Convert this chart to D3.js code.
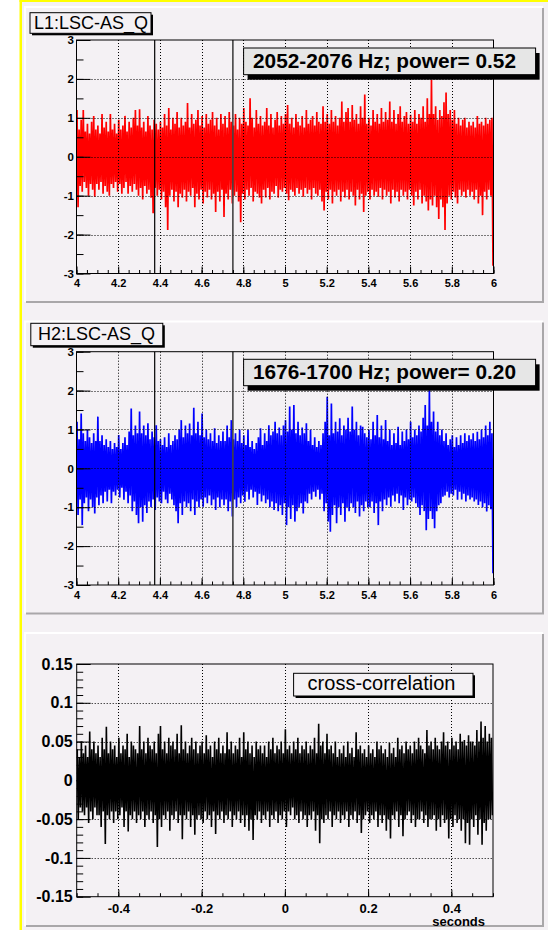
<!DOCTYPE html>
<html>
<head>
<meta charset="utf-8">
<script src="https://cdn.jsdelivr.net/npm/d3@7/dist/d3.min.js"></script>
<style>
  body { margin: 0; background: #fff; }
  svg { display: block; font-family: "Liberation Sans", Arial, Helvetica, sans-serif; }
</style>
</head>
<body>
<div id="chart"></div>
<script>
// ---- data ----
// time window of the two strain channels (s) and the two marker lines
var timeDomain = [4, 6];
var markerTimes = [4.375, 4.75];
var timeTicks = [4, 4.2, 4.4, 4.6, 4.8, 5, 5.2, 5.4, 5.6, 5.8, 6];
var timeLabels = ["4", "4.2", "4.4", "4.6", "4.8", "5", "5.2", "5.4", "5.6", "5.8", "6"];
var ampTicks = [3, 2, 1, 0, -1, -2, -3];
var ampLabels = ["3", "2", "1", "0", "-1", "-2", "-3"];

// L1 trace: successive upper / lower swings, one pair every 0.01 s (one row = 0.1 s)
var l1Hi = [
  1.2,0.7,0.95,1.2,0.65,0.85,0.6,0.9,1.05,0.7,
  0.8,0.6,1.1,0.75,0.9,0.65,1.1,0.7,0.85,0.6,
  0.95,0.7,0.8,1.05,0.65,0.9,0.75,1.0,1.2,0.8,
  1.22,0.75,0.9,0.65,1.05,0.8,0.7,0.95,0.85,0.7,
  0.9,0.75,1.1,0.8,1.25,0.7,1.0,0.85,1.15,0.75,
  1.0,0.8,0.9,1.38,0.75,1.1,0.85,0.95,1.2,0.8,
  1.05,0.75,1.1,0.85,0.95,1.15,0.8,1.0,0.7,1.1,
  0.85,1.05,0.75,1.15,0.9,0.8,1.1,0.7,1.0,0.85,
  1.25,0.9,0.8,1.5,1.0,0.75,1.2,0.85,1.05,0.8,
  0.9,1.25,0.8,1.1,0.75,0.95,1.15,0.8,1.05,0.85,
  1.1,1.33,0.85,1.0,0.75,1.1,0.9,0.8,1.05,0.75,
  1.2,0.85,0.95,1.05,0.8,1.15,0.9,0.85,1.3,0.9,
  1.1,0.85,1.2,0.9,1.05,0.8,1.0,1.42,0.9,1.15,
  1.25,0.9,1.33,0.95,1.1,0.85,1.3,1.0,1.6,0.85,
  1.0,0.8,1.2,0.9,1.1,0.85,1.25,0.9,1.15,0.95,
  1.42,0.9,1.2,0.85,1.1,1.3,0.9,1.05,1.15,0.85,
  1.08,0.9,1.2,0.85,1.1,1.0,1.3,0.9,1.5,1.1,
  1.98,1.1,1.3,0.95,1.2,1.05,1.4,1.65,1.1,1.2,
  0.95,1.2,0.85,1.0,0.8,0.95,1.0,0.75,0.9,0.8,
  0.9,0.75,1.05,0.85,0.9,0.8,1.0,0.85,0.95,1.0];
var l1Lo = [
  -1.3,-0.75,-0.9,-0.65,-0.8,-1.0,-0.7,-0.85,-1.03,-0.7,
  -0.85,-0.65,-0.95,-0.75,-0.9,-1.0,-0.7,-0.8,-0.65,-0.9,
  -0.7,-0.95,-0.8,-0.65,-0.95,-0.75,-0.9,-0.7,-0.85,-1.0,
  -0.8,-1.1,-0.75,-0.95,-0.85,-1.05,-1.45,-0.8,-1.0,-0.85,
  -1.1,-0.9,-1.3,-1.88,-1.0,-0.85,-1.15,-0.9,-1.3,-0.95,
  -1.05,-0.85,-1.15,-0.9,-1.0,-0.8,-1.3,-0.95,-1.1,-0.85,
  -1.2,-0.9,-1.05,-0.85,-1.1,-0.95,-1.42,-0.9,-1.15,-0.85,
  -1.55,-0.95,-1.1,-0.85,-1.2,-1.0,-0.9,-1.15,-1.68,-0.95,
  -1.1,-0.85,-1.0,-0.8,-1.15,-0.9,-0.95,-1.05,-1.2,-0.85,
  -1.05,-0.8,-1.1,-0.9,-0.95,-0.75,-1.05,-0.85,-0.9,-0.8,
  -0.95,-1.12,-0.85,-0.9,-1.0,-0.8,-0.95,-0.85,-1.03,-0.8,
  -0.95,-0.85,-1.1,-0.8,-0.95,-1.0,-0.85,-1.15,-1.38,-0.9,
  -1.1,-0.85,-1.2,-0.9,-1.0,-0.85,-1.15,-0.9,-1.05,-0.85,
  -1.1,-0.9,-1.0,-1.25,-0.85,-1.1,-0.95,-1.42,-1.0,-0.9,
  -1.1,-0.85,-1.0,-0.9,-1.03,-0.8,-1.1,-0.85,-1.0,-0.9,
  -1.2,-0.85,-1.05,-0.9,-1.15,-0.85,-1.0,-0.9,-1.1,-0.85,
  -1.0,-1.25,-0.9,-1.1,-0.85,-1.2,-1.0,-1.15,-1.38,-1.1,
  -1.25,-1.0,-1.3,-1.6,-1.1,-1.3,-1.88,-1.2,-1.0,-1.1,
  -0.9,-1.05,-1.2,-0.85,-1.0,-0.9,-1.05,-0.85,-1.0,-0.9,
  -1.1,-0.85,-1.2,-1.0,-1.5,-0.9,-1.1,-0.85,-1.0,-2.8];

// H2 trace
var h2Hi = [
  1.2,0.75,1.41,0.9,0.7,1.0,0.8,0.65,0.9,0.7,
  1.33,0.7,0.85,0.6,0.75,0.55,0.7,0.5,0.65,0.55,
  0.86,0.5,0.65,0.8,0.6,0.95,1.54,0.85,1.1,0.9,
  1.46,0.9,1.1,0.85,1.16,0.75,0.95,0.8,1.11,0.7,
  0.75,0.6,0.8,0.55,0.9,0.6,0.7,0.85,0.75,1.0,
  1.24,0.8,1.1,0.9,1.15,0.85,1.56,0.9,1.2,0.85,
  1.41,0.8,1.0,0.75,0.9,0.7,1.03,0.65,0.85,0.7,
  0.95,0.7,1.1,0.8,1.24,0.75,0.9,0.7,1.0,0.65,
  0.85,0.6,0.99,0.55,0.7,0.5,0.65,0.8,1.03,0.6,
  0.9,0.7,1.11,0.85,0.95,1.2,0.9,1.05,0.85,1.1,
  1.24,0.95,1.59,1.0,1.63,0.9,1.2,0.85,1.05,0.9,
  1.16,0.7,0.99,0.6,0.8,0.55,0.7,0.6,0.9,1.2,
  1.84,0.85,1.67,0.9,1.2,0.95,1.29,0.85,1.1,1.0,
  1.3,0.95,1.59,1.0,1.2,0.85,1.1,1.07,0.9,0.8,
  1.0,0.75,1.2,0.85,1.37,0.8,1.1,0.75,1.24,0.7,
  1.0,0.6,0.9,0.65,1.07,0.6,0.95,0.7,1.0,0.75,
  1.2,0.8,1.0,0.85,1.1,0.95,1.3,1.63,1.1,2.01,
  1.2,1.46,0.95,1.2,0.85,1.0,0.7,0.9,0.6,0.75,
  0.85,0.55,0.8,0.6,0.85,0.65,0.9,0.7,0.85,0.75,
  0.9,0.7,0.94,0.75,1.0,0.8,1.1,0.85,1.2,0.9];
var h2Lo = [
  -1.2,-0.8,-1.46,-0.9,-0.75,-1.1,-0.8,-1.0,-1.16,-0.75,
  -0.95,-0.7,-0.9,-0.6,-0.85,-0.55,-0.9,-0.6,-0.7,-0.55,
  -0.75,-0.5,-0.81,-0.6,-0.9,-0.7,-1.1,-0.85,-1.2,-1.41,
  -1.0,-1.37,-0.95,-1.15,-0.85,-1.0,-0.8,-1.07,-0.75,-0.85,
  -0.9,-0.6,-0.8,-0.9,-0.65,-0.8,-0.95,-1.1,-1.41,-0.9,
  -1.2,-0.85,-1.0,-0.9,-1.1,-0.8,-1.2,-0.85,-1.0,-0.8,
  -0.99,-0.75,-0.9,-0.7,-0.95,-0.8,-1.07,-0.75,-1.0,-0.8,
  -0.95,-0.8,-1.1,-0.85,-1.24,-0.8,-1.0,-0.75,-0.9,-0.7,
  -0.86,-0.6,-0.8,-0.55,-0.75,-0.6,-0.94,-0.65,-0.85,-0.7,
  -0.9,-0.8,-1.0,-0.85,-1.07,-0.9,-1.1,-0.95,-1.2,-0.9,
  -1.46,-1.0,-1.3,-0.95,-1.37,-1.1,-1.0,-0.9,-1.16,-0.85,
  -0.9,-0.65,-0.8,-0.6,-0.73,-0.55,-0.8,-0.65,-1.1,-0.9,
  -1.37,-1.63,-1.2,-0.95,-1.41,-1.0,-1.2,-0.9,-1.37,-1.0,
  -1.1,-0.9,-1.0,-1.15,-0.85,-1.24,-0.95,-1.1,-0.85,-1.0,
  -1.0,-0.85,-1.15,-0.9,-1.46,-0.85,-1.1,-0.8,-0.95,-0.75,
  -0.99,-0.7,-0.85,-0.65,-0.9,-0.7,-1.07,-0.75,-0.95,-0.8,
  -0.85,-0.75,-0.9,-1.0,-1.2,-0.95,-1.1,-1.59,-1.3,-1.1,
  -1.3,-1.54,-1.1,-0.95,-0.9,-0.73,-0.7,-0.6,-0.75,-0.65,
  -0.7,-0.55,-0.81,-0.6,-0.8,-0.65,-0.85,-0.7,-0.8,-0.75,
  -0.85,-0.8,-0.94,-0.85,-1.0,-0.9,-1.11,-0.95,-1.05,-2.7];

// cross-correlation, lag -0.5 .. 0.5 s, one pair every 0.005 s (one row = 0.05 s)
var lagDomain = [-0.5, 0.5];
var lagTicks = [-0.4, -0.2, 0, 0.2, 0.4];
var lagLabels = ["-0.4", "-0.2", "0", "0.2", "0.4"];
var ccTicks = [0.15, 0.1, 0.05, 0, -0.05, -0.1, -0.15];
var ccLabels = ["0.15", "0.1", "0.05", "0", "-0.05", "-0.1", "-0.15"];
var ccHi = [
  0.04,0.03,0.05,0.035,0.045,0.03,0.063,0.04,0.05,0.035,
  0.045,0.03,0.055,0.04,0.069,0.035,0.05,0.04,0.045,0.03,
  0.055,0.035,0.045,0.04,0.06,0.03,0.05,0.045,0.04,0.035,
  0.07,0.04,0.05,0.035,0.055,0.045,0.04,0.05,0.035,0.06,
  0.07,0.04,0.05,0.035,0.055,0.045,0.05,0.04,0.06,0.035,
  0.071,0.04,0.05,0.035,0.045,0.055,0.04,0.05,0.035,0.045,
  0.05,0.035,0.058,0.04,0.045,0.03,0.05,0.04,0.055,0.035,
  0.045,0.035,0.062,0.04,0.05,0.035,0.045,0.04,0.055,0.03,
  0.062,0.04,0.05,0.035,0.045,0.03,0.05,0.04,0.045,0.035,
  0.045,0.03,0.05,0.04,0.055,0.035,0.045,0.04,0.05,0.035,
  0.066,0.04,0.045,0.035,0.05,0.04,0.055,0.035,0.045,0.04,
  0.05,0.035,0.045,0.04,0.055,0.035,0.073,0.045,0.05,0.035,
  0.06,0.04,0.045,0.035,0.05,0.03,0.04,0.035,0.045,0.03,
  0.05,0.035,0.042,0.03,0.062,0.04,0.045,0.035,0.04,0.03,
  0.045,0.035,0.04,0.03,0.05,0.04,0.045,0.035,0.04,0.03,
  0.048,0.035,0.042,0.03,0.055,0.04,0.045,0.035,0.05,0.04,
  0.045,0.035,0.05,0.04,0.055,0.045,0.04,0.035,0.065,0.045,
  0.05,0.04,0.055,0.045,0.04,0.05,0.062,0.045,0.05,0.04,
  0.055,0.045,0.05,0.04,0.06,0.05,0.052,0.045,0.058,0.05,
  0.05,0.045,0.065,0.05,0.076,0.055,0.07,0.05,0.06,0.055];
var ccLo = [
  -0.05,-0.035,-0.04,-0.045,-0.035,-0.055,-0.04,-0.05,-0.035,-0.045,
  -0.045,-0.06,-0.04,-0.082,-0.045,-0.05,-0.04,-0.055,-0.04,-0.05,
  -0.045,-0.035,-0.06,-0.04,-0.066,-0.045,-0.05,-0.04,-0.055,-0.045,
  -0.05,-0.04,-0.06,-0.045,-0.05,-0.04,-0.055,-0.045,-0.086,-0.05,
  -0.06,-0.045,-0.05,-0.04,-0.065,-0.045,-0.05,-0.04,-0.055,-0.045,
  -0.076,-0.045,-0.05,-0.04,-0.06,-0.045,-0.07,-0.05,-0.045,-0.05,
  -0.055,-0.04,-0.05,-0.045,-0.06,-0.04,-0.069,-0.045,-0.05,-0.04,
  -0.055,-0.045,-0.05,-0.04,-0.06,-0.045,-0.05,-0.04,-0.055,-0.045,
  -0.06,-0.045,-0.065,-0.05,-0.077,-0.045,-0.05,-0.04,-0.055,-0.045,
  -0.05,-0.04,-0.06,-0.045,-0.05,-0.04,-0.055,-0.045,-0.05,-0.04,
  -0.06,-0.04,-0.045,-0.035,-0.05,-0.045,-0.055,-0.04,-0.05,-0.045,
  -0.06,-0.045,-0.05,-0.04,-0.065,-0.045,-0.081,-0.05,-0.055,-0.045,
  -0.05,-0.04,-0.06,-0.045,-0.05,-0.04,-0.055,-0.045,-0.05,-0.04,
  -0.06,-0.045,-0.05,-0.04,-0.055,-0.045,-0.068,-0.05,-0.045,-0.04,
  -0.055,-0.045,-0.05,-0.04,-0.06,-0.045,-0.055,-0.045,-0.065,-0.05,
  -0.075,-0.045,-0.05,-0.04,-0.06,-0.045,-0.072,-0.05,-0.045,-0.04,
  -0.055,-0.045,-0.06,-0.05,-0.05,-0.04,-0.055,-0.045,-0.06,-0.05,
  -0.05,-0.045,-0.065,-0.05,-0.06,-0.045,-0.055,-0.05,-0.075,-0.05,
  -0.06,-0.045,-0.055,-0.05,-0.065,-0.05,-0.081,-0.055,-0.083,-0.05,
  -0.06,-0.045,-0.07,-0.05,-0.083,-0.055,-0.065,-0.05,-0.05,-0.045];

// ---- drawing ----
var W = 548, H = 930;
var bg = "#f4f1f4";

var svg = d3.select("#chart").append("svg")
    .attr("width", W)
    .attr("height", H);

svg.append("rect").attr("x", 20).attr("y", 0).attr("width", W - 20).attr("height", H).attr("fill", bg);
svg.append("rect").attr("x", 19.5).attr("y", 0).attr("width", 2.5).attr("height", H).attr("fill", "#ffff00");
svg.append("rect").attr("x", 19.5).attr("y", 0).attr("width", W).attr("height", 2).attr("fill", "#ffff00");

var clipId = 0;

function drawPad(py, ph) {
    var px = 25, pw = 518;
    svg.append("rect").attr("x", px).attr("y", py).attr("width", pw).attr("height", ph).attr("fill", bg);
    svg.append("path")
        .attr("d", "M" + px + "," + (py + ph) + "V" + py + "H" + (px + pw))
        .attr("fill", "none").attr("stroke", "#ffffff").attr("stroke-width", 2);
    svg.append("path")
        .attr("d", "M" + (px + 1) + "," + (py + ph) + "H" + (px + pw) + "V" + (py + 1))
        .attr("fill", "none").attr("stroke", "#a9a7a9").attr("stroke-width", 2);
}

function textBox(x, y, w, h, label, o) {
    var g = svg.append("g");
    g.append("rect").attr("x", x + o.sh[0]).attr("y", y + o.sh[1]).attr("width", w).attr("height", h).attr("fill", "#000");
    g.append("rect").attr("x", x).attr("y", y).attr("width", w).attr("height", h)
        .attr("fill", o.fill).attr("stroke", "#000").attr("stroke-width", 1);
    g.append("text").attr("x", o.tx).attr("y", o.ty)
        .attr("font-size", o.size).attr("font-weight", o.bold ? "bold" : "normal")
        .attr("fill", "#000").text(label);
}

// the signal swings up to hi[i] then down to lo[i]; drawn as one polyline
function drawTrace(g, x, y, dom, hi, lo, color, width) {
    var step = (dom[1] - dom[0]) / hi.length;
    var pts = [];
    hi.forEach(function(h, i) {
        pts.push([dom[0] + (i + 0.25) * step, h]);
        pts.push([dom[0] + (i + 0.75) * step, lo[i]]);
    });
    var line = d3.line()
        .x(function(d) { return x(d[0]); })
        .y(function(d) { return y(d[1]); });
    g.append("path").datum(pts).attr("d", line)
        .attr("fill", "none").attr("stroke", color).attr("stroke-width", width)
        .attr("stroke-linejoin", "miter").attr("stroke-miterlimit", 1.5);
}

function drawFrame(f) {
    var x = d3.scaleLinear().domain(f.xDom).range([f.x0, f.x1]);
    var y = d3.scaleLinear().domain(f.yDom).range([f.y1, f.y0]);
    var g = svg.append("g");

    g.append("rect").attr("x", f.x0).attr("y", f.y0).attr("width", f.x1 - f.x0).attr("height", f.y1 - f.y0).attr("fill", bg);

    var id = "clip" + (clipId++);
    g.append("clipPath").attr("id", id).append("rect")
        .attr("x", f.x0).attr("y", f.y0).attr("width", f.x1 - f.x0).attr("height", f.y1 - f.y0);
    var tg = g.append("g").attr("clip-path", "url(#" + id + ")");
    drawTrace(tg, x, y, f.xDom, f.hi, f.lo, f.color, f.lw);

    // dotted grid on top of the trace
    var grid = g.append("g").attr("stroke", "#000").attr("stroke-width", 1).attr("stroke-dasharray", "1,2");
    f.xTicks.forEach(function(t) {
        if (t <= f.xDom[0] || t >= f.xDom[1]) return;
        grid.append("line").attr("x1", Math.round(x(t)) + 0.5).attr("x2", Math.round(x(t)) + 0.5)
            .attr("y1", f.y0).attr("y2", f.y1);
    });
    f.yTicks.forEach(function(t) {
        if (t <= f.yDom[0] || t >= f.yDom[1]) return;
        grid.append("line").attr("y1", Math.round(y(t)) + 0.5).attr("y2", Math.round(y(t)) + 0.5)
            .attr("x1", f.x0).attr("x2", f.x1);
    });

    (f.markers || []).forEach(function(t, i) {
        g.append("line").attr("x1", x(t)).attr("x2", x(t)).attr("y1", f.y0).attr("y2", f.y1)
            .attr("stroke", i === 0 ? "#000" : "#444").attr("stroke-width", i === 0 ? 1.2 : 1.6);
    });

    g.append("rect").attr("x", f.x0).attr("y", f.y0).attr("width", f.x1 - f.x0).attr("height", f.y1 - f.y0)
        .attr("fill", "none").attr("stroke", "#000").attr("stroke-width", 1);

    // ticks inside the frame, ROOT style
    function strip(sel) { sel.select(".domain").remove(); sel.selectAll("line").attr("stroke", "#000"); }
    function fonts(size) {
        return function(s) {
            s.attr("font-family", null).attr("font-size", null);
            s.selectAll("text").attr("font-size", size).attr("font-weight", "bold").attr("fill", "#000");
        };
    }

    g.append("g").attr("transform", "translate(0," + f.y1 + ")")
        .call(d3.axisBottom(x).tickValues(f.xMinor).tickSize(-f.xLen[1]).tickFormat(""))
        .call(strip);
    g.append("g").attr("transform", "translate(0," + f.y1 + ")")
        .call(d3.axisBottom(x).tickValues(f.xTicks).tickSize(-f.xLen[0]).tickPadding(f.xPad)
            .tickFormat(function(d, i) { return f.xLabels[i]; }))
        .call(strip)
        .call(fonts(f.xFont));

    g.append("g").attr("transform", "translate(" + f.x0 + ",0)")
        .call(d3.axisLeft(y).tickValues(f.yMinor).tickSize(-f.yLen[1]).tickFormat(""))
        .call(strip);
    g.append("g").attr("transform", "translate(" + f.x0 + ",0)")
        .call(d3.axisLeft(y).tickValues(f.yTicks).tickSize(-f.yLen[0]).tickPadding(f.yPad)
            .tickFormat(function(d, i) { return f.yLabels[i]; }))
        .call(strip)
        .call(fonts(f.yFont));
    return { x: x, y: y };
}

var timeMinor = d3.range(0, 41).map(function(i) { return timeDomain[0] + i * 0.05; });
var ampMinor = d3.range(0, 13).map(function(i) { return -3 + i * 0.5; });
var lagMinor = d3.range(0, 21).map(function(i) { return lagDomain[0] + i * 0.05; });
var ccMinor = d3.range(0, 31).map(function(i) { return -0.15 + i * 0.01; });

function strainFrame(y0, y1, hi, lo, color) {
    return {
        x0: 76.5, x1: 493.5, y0: y0, y1: y1,
        xDom: timeDomain, yDom: [-3, 3],
        xTicks: timeTicks, xLabels: timeLabels, xMinor: timeMinor, xLen: [7, 3.5], xPad: 6, xFont: 11,
        yTicks: ampTicks, yLabels: ampLabels, yMinor: ampMinor, yLen: [14, 7], yPad: 2.5, yFont: 11.5,
        hi: hi, lo: lo, color: color, lw: 1.7,
        markers: markerTimes
    };
}

// pad 1 : L1
drawPad(7, 295);
drawFrame(strainFrame(40, 273.5, l1Hi, l1Lo, "#ff0000"));
textBox(30, 12.7, 121, 20.6, "L1:LSC-AS_Q", { sh: [2, 2], fill: bg, tx: 34, ty: 28.7, size: 18, bold: false });
textBox(243.6, 48, 292, 26.7, "2052-2076 Hz; power= 0.52", { sh: [4, 5], fill: "#e6e6e6", tx: 253, ty: 67.6, size: 20.8, bold: true });

// pad 2 : H2
drawPad(321.5, 292);
drawFrame(strainFrame(351.7, 585, h2Hi, h2Lo, "#0000ff"));
textBox(30.8, 323.3, 132, 22.4, "H2:LSC-AS_Q", { sh: [2, 2], fill: bg, tx: 38, ty: 340.2, size: 18, bold: false });
textBox(243.6, 359.3, 292, 26.4, "1676-1700 Hz; power= 0.20", { sh: [4, 5], fill: "#e6e6e6", tx: 253, ty: 378.8, size: 20.8, bold: true });

// pad 3 : cross-correlation
drawPad(633, 293);
drawFrame({
    x0: 76.7, x1: 493, y0: 664, y1: 896.7,
    xDom: lagDomain, yDom: [-0.15, 0.15],
    xTicks: lagTicks, xLabels: lagLabels, xMinor: lagMinor, xLen: [7, 3.5], xPad: 6.6, xFont: 13,
    yTicks: ccTicks, yLabels: ccLabels, yMinor: ccMinor, yLen: [14, 6.5], yPad: 4, yFont: 16,
    hi: ccHi, lo: ccLo, color: "#000", lw: 1.6
});
textBox(293.6, 673.3, 179.4, 22.7, "cross-correlation", { sh: [2, 2], fill: bg, tx: 307.6, ty: 689.5, size: 20, bold: false });

svg.append("text").attr("x", 485).attr("y", 925.5).attr("text-anchor", "end")
    .attr("font-size", 13).attr("font-weight", "bold").text("seconds");
</script>
</body>
</html>
